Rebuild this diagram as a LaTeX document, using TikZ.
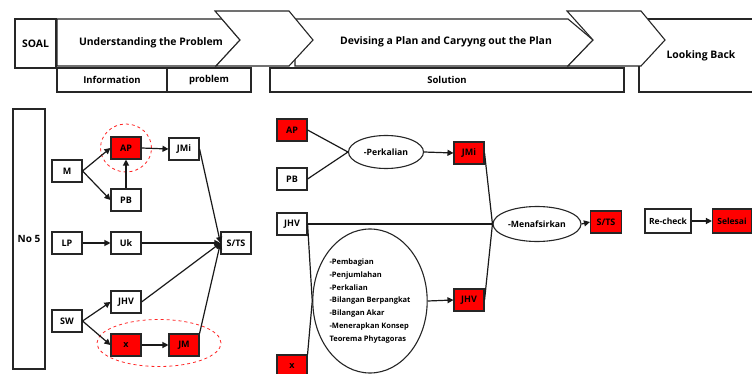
\documentclass[tikz,border=0pt]{standalone}
\usepackage{fontspec}
\setmainfont{Open Sans}
\usetikzlibrary{arrows.meta,shapes.geometric}
\begin{document}
\begin{tikzpicture}[x=1pt,y=-1pt,
 font=\bfseries\fontsize{9}{11}\selectfont,
 bx/.style={draw=black!85, line width=1.1pt, minimum width=30pt, minimum height=22pt, inner sep=0pt, fill=white},
 rbx/.style={bx, fill=red},
 ln/.style={line width=1.2pt, black!90},
 arr/.style={ln, -{Triangle[length=6pt,width=6pt]}},
 hd/.style={draw=black!85, line width=1.1pt, fill=white},
 hdtext/.style={font=\bfseries\fontsize{10.4}{12}\selectfont},
 subtext/.style={font=\bfseries\fontsize{9.5}{11}\selectfont},
 ov/.style={draw=black!85, ellipse, line width=1.1pt, inner sep=0pt, fill=white},
 hl/.style={draw=red!85, dashed, line width=0.8pt, ellipse, inner sep=0pt}
]
\useasboundingbox (0,0) rectangle (752,374);
% header
\draw[hd] (639,19) rectangle (760,92);
\draw[hd] (295,19) -- (568,19) -- (593,40) -- (568,66) -- (295,66) -- cycle;
\draw[hd] (567,11) -- (641,11) -- (665,40) -- (641,66) -- (568,66) -- (593,40) -- cycle;
\draw[hd] (15,19) rectangle (56,68);
\draw[hd] (57,19) -- (222,19) -- (240,40) -- (216,66) -- (57,66) -- cycle;
\draw[hd] (215,11) -- (289,11) -- (313,40) -- (289,66) -- (216,66) -- (240,40) -- cycle;
\draw[hd] (57,68) rectangle (167,92);
\draw[hd] (167,68) rectangle (251,92);
\draw[hd] (270,68) rectangle (624,92);
\node[hdtext] (soal) at (35.5,44) {SOAL};
\node[hdtext] (und) at (151,43) {Understanding the Problem};
\node[hdtext] (dev) at (446,42) {Devising a Plan and Caryyng out the Plan};
\node[hdtext] (lb) at (701,56) {Looking Back};
\node[subtext] (info) at (112,80) {Information};
\node[subtext] (prob) at (209,80) {problem};
\node[subtext] (sol) at (447,80) {Solution};
% left part
\node[bx, minimum width=32pt, minimum height=260pt, font=\bfseries\fontsize{10}{12}\selectfont] (no5) at (29,239) {No 5};
\node[bx] (M) at (67,171) {M};
\node[rbx] (AP) at (126,148) {AP};
\node[bx] (JMi) at (184,149) {JMi};
\node[bx] (PB) at (126,200) {PB};
\node[bx] (LP) at (67,243) {LP};
\node[bx] (Uk) at (126,243) {Uk};
\node[bx] (STSa) at (236,243) {S/TS};
\node[bx] (JHVa) at (126,302) {JHV};
\node[bx] (SW) at (67,321) {SW};
\node[rbx] (Xa) at (126,345) {x};
\node[rbx] (JM) at (184,345) {JM};
\node[hl, minimum width=51pt, minimum height=48pt] (hlA) at (126,148) {};
\node[hl, minimum width=124pt, minimum height=47pt] (hlB) at (159,343) {};
\draw[arr] (M.east) -- (AP.west);
\draw[arr] (M.east) -- (PB.west);
\draw[arr] (PB.north) -- (AP.south);
\draw[arr] (AP.east) -- (JMi.west);
\draw[arr] (LP.east) -- (Uk.west);
\draw[arr] (SW.east) -- (JHVa.west);
\draw[arr] (SW.east) -- (Xa.west);
\draw[arr] (Xa.east) -- (JM.west);
\draw[arr] (JMi.east) -- (STSa.west);
\draw[arr] (Uk.east) -- (STSa.west);
\draw[arr] (JHVa.east) -- (STSa.west);
\draw[arr] (JM.north east) -- (STSa.west);
% middle part
\node[rbx] (APb) at (292,130) {AP};
\node[bx] (PBb) at (292,179) {PB};
\node[ov, minimum width=75pt, minimum height=33pt, font=\bfseries\fontsize{8.7}{10}\selectfont] (perk) at (386,152) {-Perkalian};
\node[rbx] (JMib) at (469,153) {JMi};
\node[bx] (JHVb) at (292,224) {JHV};
\node[ov, minimum width=114pt, minimum height=144pt, align=left, font=\bfseries\fontsize{7.5}{12.9}\selectfont] (calc) at (370,301)
 {-Pembagian\\-Penjumlahan\\-Perkalian\\-Bilangan Berpangkat\\-Bilangan Akar\\-Menerapkan Konsep\\Teorema Phytagoras};
\node[rbx] (Xb) at (292,366) {x};
\node[rbx] (JHVc) at (469,300) {JHV};
\node[ov, minimum width=88pt, minimum height=35pt, font=\bfseries\fontsize{8.7}{10}\selectfont] (men) at (537,224) {-Menafsirkan};
\node[rbx, minimum width=31pt] (STSb) at (606,222) {S/TS};
\node[bx, minimum width=46pt, minimum height=24pt, font=\bfseries\fontsize{8.5}{10}\selectfont] (rc) at (668,221) {Re-check};
\node[rbx, minimum width=39pt, minimum height=24pt, font=\bfseries\fontsize{8.5}{10}\selectfont] (sel) at (732,221) {Selesai};
\draw[ln] (APb.east) -- (perk.west);
\draw[ln] (PBb.east) -- (perk.west);
\draw[arr] (perk.east) -- (JMib.west);
\draw[ln] (JHVb.east) -- (men.west);
\draw[ln] (JHVb.east) -- (calc.west);
\draw[ln] (Xb.north east) -- (calc.west);
\draw[arr] (calc.east) -- (JHVc.west);
\draw[ln] (JMib.east) -- (men.west);
\draw[ln] (JHVc.east) -- (men.west);
\draw[arr] (men.east) -- (STSb.west);
\draw[arr] (rc.east) -- (sel.west);
\end{tikzpicture}
\end{document}
